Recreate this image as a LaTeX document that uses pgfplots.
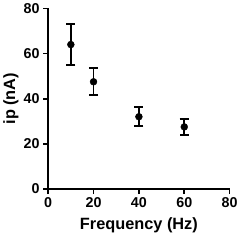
\documentclass[border=0pt]{standalone}
\usepackage{pgfplots}
\pgfplotsset{compat=1.18}
\usepackage{fontspec}
\setmainfont{Liberation Sans}
\begin{document}
\begin{tikzpicture}
\begin{axis}[
  scale only axis,
  width=178pt, height=177pt,
  xmin=0, xmax=80, ymin=0, ymax=80,
  xtick={0,20,40,60,80}, ytick={0,20,40,60,80},
  axis lines=left,
  axis line style={line width=1.8pt, -},
  tick style={line width=1.6pt, black},
  tick align=outside,
  major tick length=5pt,
  font=\bfseries\fontsize{14}{16}\selectfont,
  tick label style={font=\bfseries\fontsize{14}{16}\selectfont},
  /pgf/number format/assume math mode=true,
  xlabel={Frequency (Hz)},
  ylabel={ip (nA)},
  label style={font=\bfseries\fontsize{16}{18}\selectfont},
  xlabel style={yshift=-3pt},
  ylabel style={yshift=-2pt},
  clip=false,
]
\addplot[only marks, mark=*, mark size=3.4pt, black,
  error bars/.cd, y dir=both, y explicit,
  error bar style={line width=1.6pt},
  error mark options={rotate=90, mark size=4.5pt, line width=1.6pt}]
  coordinates {
  (10,64) +- (0,9)
  (20,47.5) +- (0,6)
  (40,32) +- (0,4.2)
  (60,27.5) +- (0,3.6)
};
\end{axis}
\end{tikzpicture}
\end{document}
